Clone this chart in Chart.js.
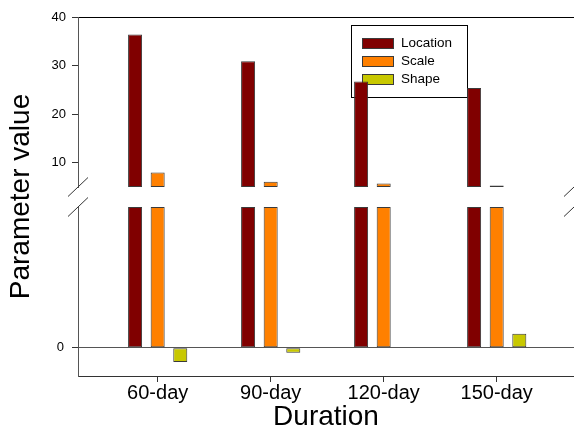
<!DOCTYPE html>
<html>
<head>
<meta charset="utf-8">
<title>Parameter value by duration</title>
<script src="https://cdn.jsdelivr.net/npm/chart.js@4.4.1/dist/chart.umd.min.js"></script>
<style>
  html, body { margin: 0; padding: 0; background: #fff; }
  #chart { display: block; }
</style>
</head>
<body>
<canvas id="chart" width="574" height="429"></canvas>
<script>
// data
const durations = ["60-day", "90-day", "120-day", "150-day"];
const seriesNames = ["Location", "Scale", "Shape"];
const locationValues = [36.4, 30.9, 26.7, 25.4];
const scaleValues = [8.0, 6.1, 5.7, 5.3];
const shapeValues = [-0.1, -0.035, 0, 0.1];
const upperTicks = [10, 20, 30, 40];
const lowerTicks = [0];

// the two halves of the broken y axis
const upperMin = 5, upperMax = 40;
const lowerMin = -0.2, lowerMax = 1.0;

const seriesValues = [locationValues, scaleValues, shapeValues];
const colors = ["#800000", "#ff8000", "#c8c800"];
const edge = "#3a3a3a";
const fontFamily = "'Liberation Sans', Arial, sans-serif";

Chart.defaults.font.family = fontFamily;
Chart.defaults.color = "#000";

// each series is drawn twice: once on the upper axis, once on the lower one
const datasets = [];
seriesNames.forEach((name, k) => {
  const vals = seriesValues[k];
  datasets.push({
    label: name,
    yAxisID: "yUpper",
    stack: name,
    base: upperMin,
    data: vals.map((v, i) => ({ x: i, y: v > upperMin ? v : null })),
    backgroundColor: colors[k],
    borderColor: edge,
    borderWidth: 1,
    borderSkipped: false
  });
  datasets.push({
    label: name,
    yAxisID: "yLower",
    stack: name,
    data: vals.map((v, i) => ({ x: i, y: Math.min(v, lowerMax) })),
    backgroundColor: colors[k],
    borderColor: edge,
    borderWidth: 1,
    borderSkipped: false
  });
});

// legend box, drawn under the bars like in the original
const boxLegend = {
  id: "boxLegend",
  beforeDatasetsDraw(chart) {
    const ctx = chart.ctx;
    ctx.save();
    ctx.fillStyle = "#fff";
    ctx.fillRect(351, 25, 116, 72);
    ctx.strokeStyle = "#000";
    ctx.lineWidth = 1;
    ctx.strokeRect(351.5, 25.5, 116, 72);
    ctx.font = "13.5px " + fontFamily;
    ctx.textBaseline = "middle";
    seriesNames.forEach((name, k) => {
      const y = 43 + k * 18;
      ctx.fillStyle = colors[k];
      ctx.fillRect(362, y - 5, 31, 10);
      ctx.strokeStyle = edge;
      ctx.strokeRect(362.5, y - 4.5, 31, 10);
      ctx.fillStyle = "#000";
      ctx.fillText(name, 401, y);
    });
    ctx.restore();
  }
};

// the // marks where the axis is broken
const breakMarks = {
  id: "breakMarks",
  afterDraw(chart) {
    const ctx = chart.ctx;
    const up = chart.scales.yUpper;
    const low = chart.scales.yLower;
    const area = chart.chartArea;
    ctx.save();
    ctx.strokeStyle = "#333";
    ctx.lineWidth = 1;
    [area.left, area.right].forEach(x => {
      [up.bottom, low.top].forEach(y => {
        ctx.beginPath();
        ctx.moveTo(x - 10, y + 9.5);
        ctx.lineTo(x + 10, y - 9.5);
        ctx.stroke();
      });
    });
    ctx.restore();
  }
};

new Chart(document.getElementById("chart"), {
  type: "bar",
  data: { datasets: datasets },
  plugins: [boxLegend, breakMarks],
  options: {
    responsive: false,
    animation: false,
    categoryPercentage: 0.6,
    barPercentage: 0.62,
    layout: { padding: { top: 17, right: 0, bottom: 0, left: 0 } },
    plugins: {
      legend: { display: false },
      tooltip: { enabled: false }
    },
    scales: {
      x: {
        type: "linear",
        offset: false,
        min: -0.705,
        max: 3.684,
        afterBuildTicks: s => { s.ticks = durations.map((d, i) => ({ value: i })); },
        afterFit: s => { s.height = 53; },
        ticks: {
          callback: v => durations[v],
          font: { size: 20, lineHeight: 1 },
          padding: 1,
          maxRotation: 0
        },
        grid: { offset: false, drawOnChartArea: false, tickLength: 6, color: "#333", tickColor: "#333", tickWidth: 1 },
        border: { color: "#333", width: 1 },
        title: {
          display: true,
          text: "Duration",
          font: { size: 28, lineHeight: 1 },
          padding: { top: 0, bottom: -2 }
        }
      },
      yTitle: {
        position: "left",
        weight: 10,
        afterFit: s => { s.width = 42; },
        ticks: { display: false },
        grid: { display: false },
        border: { display: false },
        title: {
          display: true,
          text: "Parameter value",
          font: { size: 28, lineHeight: 1 },
          padding: { top: 7, bottom: 0 }
        }
      },
      yUpper: {
        position: "left",
        stack: "v",
        stackWeight: 170,
        weight: 3,
        stacked: false,
        min: upperMin,
        max: upperMax,
        afterBuildTicks: s => { s.ticks = upperTicks.map(v => ({ value: v })); },
        afterFit: s => { s.width = 36; },
        ticks: { font: { size: 13 }, padding: 6 },
        grid: {
          tickLength: 6,
          color: c => (c.tick && c.tick.value === upperMax ? "#000" : "rgba(0,0,0,0)"),
          tickColor: "#333",
          tickWidth: 1
        },
        border: { color: "#555", width: 1 }
      },
      yGap: {
        position: "left",
        stack: "v",
        stackWeight: 20,
        weight: 2,
        afterFit: s => { s.width = 36; },
        ticks: { display: false },
        grid: { display: false },
        border: { display: false }
      },
      yLower: {
        position: "left",
        stack: "v",
        stackWeight: 169,
        weight: 1,
        stacked: false,
        min: lowerMin,
        max: lowerMax,
        afterBuildTicks: s => { s.ticks = lowerTicks.map(v => ({ value: v })); },
        afterFit: s => { s.width = 36; },
        ticks: { font: { size: 13 }, padding: 8 },
        grid: { tickLength: 6, color: "#555", tickColor: "#333", tickWidth: 1 },
        border: { color: "#555", width: 1 }
      }
    }
  }
});
</script>
</body>
</html>
